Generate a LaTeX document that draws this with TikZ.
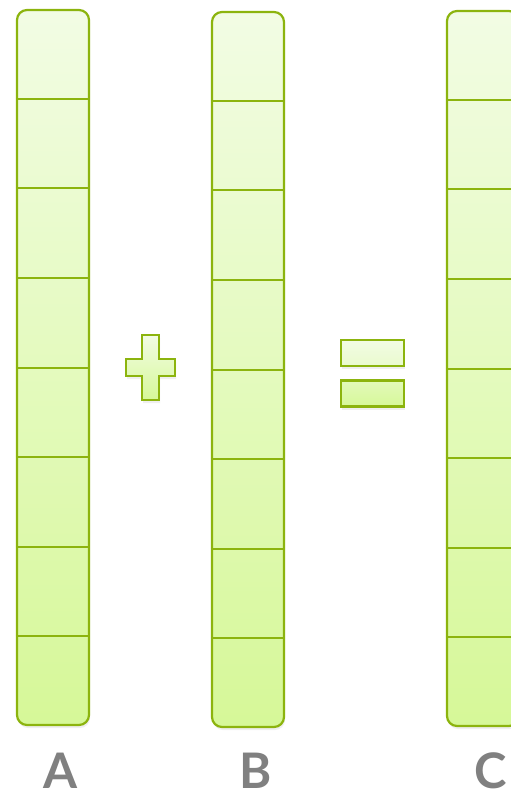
\documentclass[tikz,border=0pt]{standalone}
\usepackage{fontspec}
\setsansfont{Lato}
\usepackage{tikz}
\usetikzlibrary{positioning,calc,shadows}
\definecolor{celledge}{RGB}{140,180,14}
\definecolor{celltop}{RGB}{242,252,228}
\definecolor{cellbot}{RGB}{214,248,152}
\definecolor{labgray}{RGB}{128,128,128}

\begin{document}
\begin{tikzpicture}[x=1pt,y=-1pt,
  vecbar/.style={draw=celledge,line width=2.2pt,rounded corners=10pt,
    top color=celltop,bottom color=cellbot,minimum width=72pt,minimum height=715pt,inner sep=0pt,
    drop shadow={shadow xshift=1pt,shadow yshift=-3pt,opacity=0.13}},
  cellline/.style={celledge,line width=2pt},
  veclabel/.style={text=labgray,font=\sffamily\bfseries\fontsize{49}{49}\selectfont,anchor=base,inner sep=0pt},
  opmark/.style={draw=celledge,line width=2pt,top color=celltop,bottom color=cellbot,
    drop shadow={shadow xshift=1pt,shadow yshift=-3pt,opacity=0.13}},
  eqbar/.style={draw=celledge,line width=2.6pt,minimum width=63pt,minimum height=26pt,inner sep=0pt,
    drop shadow={shadow xshift=1pt,shadow yshift=-3pt,opacity=0.13}}]
  \useasboundingbox (0,0) rectangle (511,798);
  % vectors A, B, C: 8 cells each
  \foreach \v/\x/\t in {A/53/9,B/248/11,C/483/10} {
    \node[vecbar] (bar\v) at (\x,\t+358.5) {};
    \foreach \k in {1,...,7}
      \draw[cellline] ($(bar\v.north west)!\k/8!(bar\v.south west)$) -- ($(bar\v.north east)!\k/8!(bar\v.south east)$);
    \node[veclabel] (lab\v) at (\x+8,788) {\v};
  }
  % plus
  \draw[opmark] (142,335) -- (159,335) -- (159,359) -- (175,359) -- (175,376) -- (159,376)
    -- (159,400) -- (142,400) -- (142,376) -- (126,376) -- (126,359) -- (142,359) -- cycle;
  % equals
  \node[eqbar,top color=celltop,bottom color=celltop!70!cellbot] (eqtop) at (372.5,353) {};
  \node[eqbar,top color=celltop!45!cellbot,bottom color=cellbot] (eqbot) at (372.5,393.5) {};
\end{tikzpicture}
\end{document}
